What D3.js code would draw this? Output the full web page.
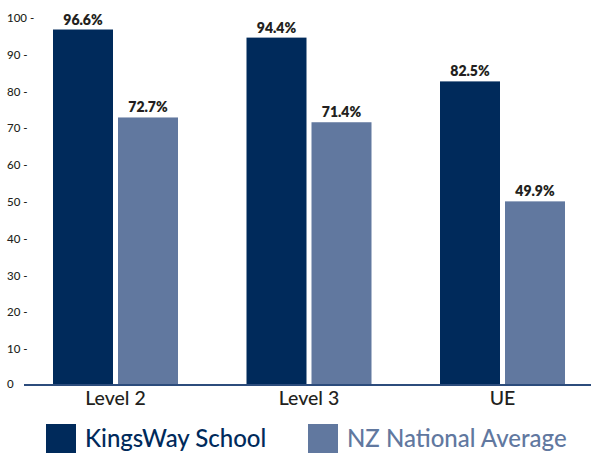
<!DOCTYPE html>
<html>
<head>
<meta charset="utf-8">
<script src="https://cdn.jsdelivr.net/npm/d3@7"></script>
<style>
  html, body { margin: 0; padding: 0; background: #fff; }
  svg { display: block; }
</style>
</head>
<body>
<div id="chart"></div>
<script>
// chart data
const categories = ["Level 2", "Level 3", "UE"];
const seriesNames = ["KingsWay School", "NZ National Average"];
const kingsway = [96.6, 94.4, 82.5];
const national = [72.7, 71.4, 49.9];
const yTicks = [0, 10, 20, 30, 40, 50, 60, 70, 80, 90, 100];

const colors = ["#002a5b", "#61789f"];
const width = 591;
const height = 453;

const svg = d3.select("#chart")
  .append("svg")
  .attr("width", width)
  .attr("height", height);

// scales
const x0 = d3.scaleBand()
  .domain(categories)
  .range([18.75, 599.25])
  .paddingInner(0.354)
  .paddingOuter(0.177);

const x1 = d3.scaleBand()
  .domain(seriesNames)
  .range([0, x0.bandwidth()])
  .paddingInner(1 / 13);

const y = d3.scaleLinear()
  .domain([0, 100])
  .range([385, 17]);

// y tick labels (left aligned, with a dash)
svg.append("g")
  .selectAll("text")
  .data(yTicks)
  .enter()
  .append("text")
  .attr("x", 7)
  .attr("y", d => y(d) + (d === 0 ? -1 : 1))
  .attr("dy", "0.35em")
  .attr("font-family", "Lato, sans-serif")
  .attr("font-weight", 500)
  .attr("font-size", 11.5)
  .attr("fill", "#231f20")
  .text(d => d === 0 ? "0" : d + " -");

// bars
const rows = categories.map((c, i) => ({cat: c, values: [kingsway[i], national[i]]}));

const groups = svg.selectAll("g.group")
  .data(rows)
  .enter()
  .append("g")
  .attr("class", "group")
  .attr("transform", d => `translate(${x0(d.cat)},0)`);

groups.selectAll("rect")
  .data(d => d.values.map((v, j) => ({name: seriesNames[j], value: v, j})))
  .enter()
  .append("rect")
  .attr("x", d => x1(d.name))
  .attr("y", d => y(d.value))
  .attr("width", x1.bandwidth())
  .attr("height", d => y(0) + 1 - y(d.value))
  .attr("fill", d => colors[d.j]);

groups.selectAll("text.val")
  .data(d => d.values.map((v, j) => ({name: seriesNames[j], value: v})))
  .enter()
  .append("text")
  .attr("class", "val")
  .attr("x", d => x1(d.name) + x1.bandwidth() / 2)
  .attr("y", d => y(d.value) - 5)
  .attr("text-anchor", "middle")
  .attr("font-family", "Lato, sans-serif")
  .attr("font-weight", 800)
  .attr("font-size", 14)
  .attr("fill", "#231f20")
  .text(d => d.value.toFixed(1) + "%");

// baseline
svg.append("line")
  .attr("x1", 24)
  .attr("x2", width)
  .attr("y1", y(0))
  .attr("y2", y(0))
  .attr("stroke", "#2c4c7c")
  .attr("stroke-width", 2);

// category labels
svg.append("g")
  .selectAll("text")
  .data(categories)
  .enter()
  .append("text")
  .attr("x", d => x0(d) + x0.bandwidth() / 2)
  .attr("y", 405)
  .attr("text-anchor", "middle")
  .attr("font-family", "Lato, sans-serif")
  .attr("font-weight", 500)
  .attr("font-size", 19.5)
  .attr("fill", "#231f20")
  .text(d => d);

// legend
const legendX = [46, 308];
const legend = svg.selectAll("g.legend")
  .data(seriesNames)
  .enter()
  .append("g")
  .attr("class", "legend")
  .attr("transform", (d, i) => `translate(${legendX[i]},424)`);

legend.append("rect")
  .attr("width", 30)
  .attr("height", 29)
  .attr("fill", (d, i) => colors[i]);

legend.append("text")
  .attr("x", 39)
  .attr("y", 23)
  .attr("font-family", "Lato, sans-serif")
  .attr("font-weight", 500)
  .attr("font-size", 24)
  .attr("fill", (d, i) => colors[i])
  .text(d => d);
</script>
</body>
</html>
